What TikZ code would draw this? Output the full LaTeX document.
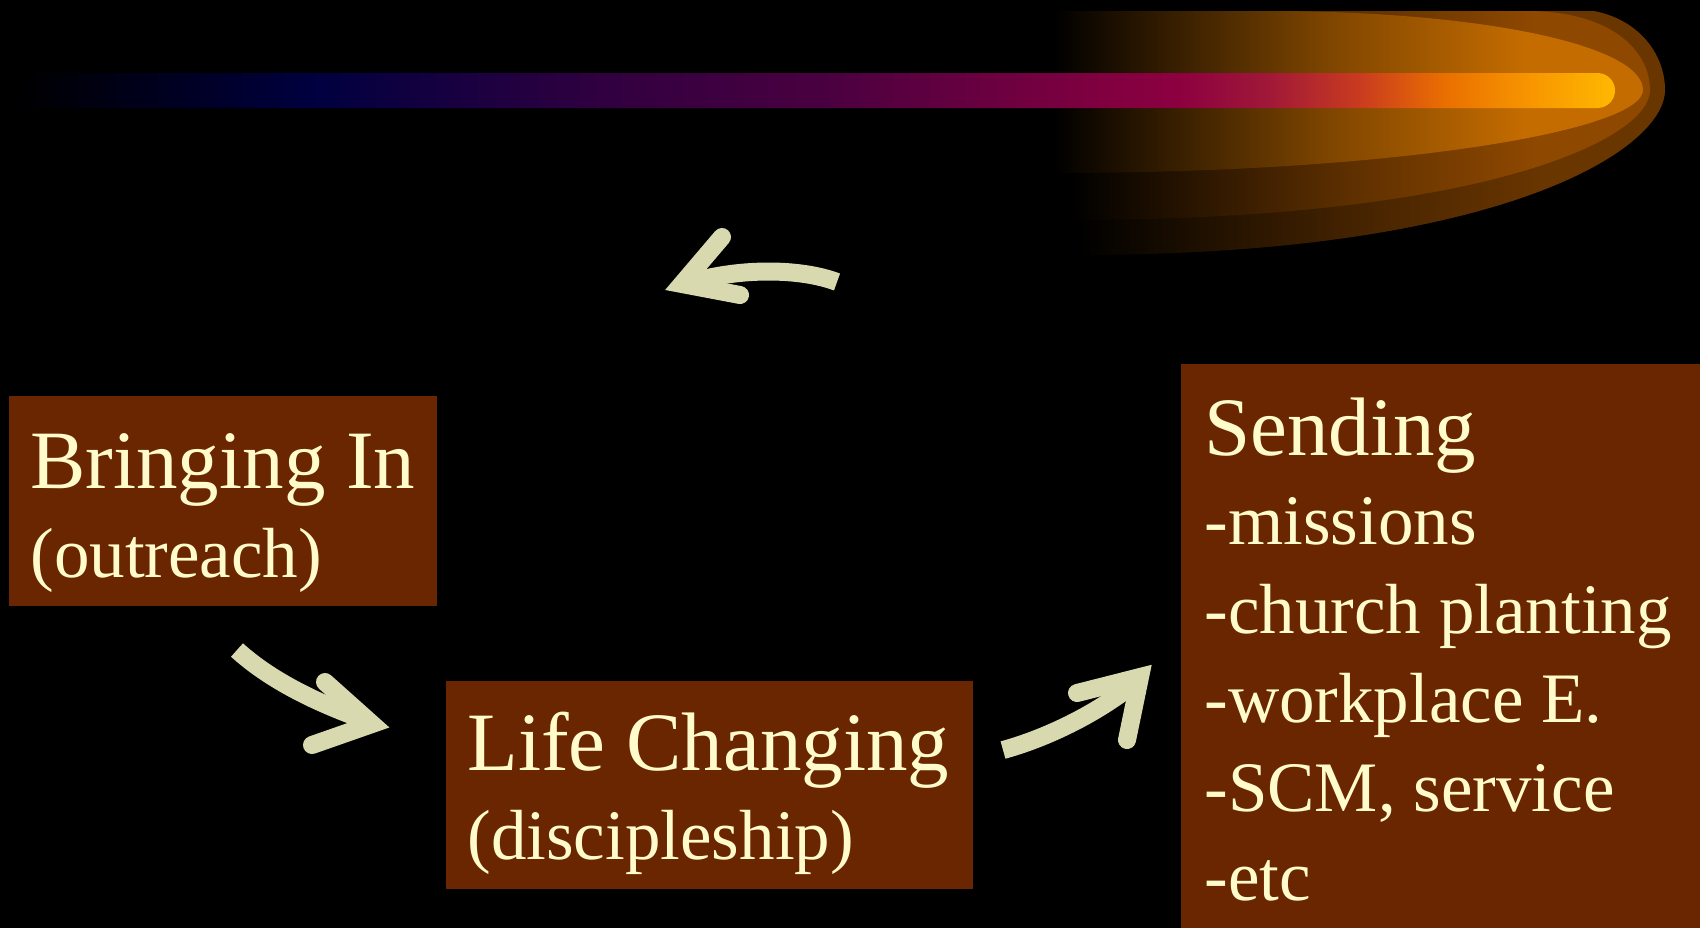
\documentclass[tikz,border=0pt]{standalone}
\usepackage{fontspec}
\setmainfont{Liberation Serif}
\definecolor{boxbrown}{HTML}{6A2600}
\definecolor{cream}{HTML}{FFFBCB}
\definecolor{arrowc}{HTML}{D9D9B0}
\definecolor{haloA}{HTML}{C46C00}
\definecolor{haloB}{HTML}{8E4800}
\definecolor{haloC}{HTML}{6A3600}
\colorlet{haloAa}{haloA!33!black}
\colorlet{haloAb}{haloA!66!black}
\colorlet{haloBa}{haloB!33!black}
\colorlet{haloBb}{haloB!66!black}
\colorlet{haloCa}{haloC!33!black}
\colorlet{haloCb}{haloC!66!black}
\definecolor{cbA}{HTML}{000040}
\definecolor{cbB}{HTML}{300040}
\definecolor{cbC}{HTML}{4A0040}
\definecolor{cbD}{HTML}{800040}
\definecolor{cbE}{HTML}{8C0040}
\definecolor{cbF}{HTML}{A01838}
\definecolor{cbG}{HTML}{C83A20}
\definecolor{cbH}{HTML}{EA7000}
\definecolor{cbI}{HTML}{F89800}
\definecolor{cbJ}{HTML}{FFB800}
\pgfdeclarehorizontalshading{cometbar}{100bp}{color(0bp)=(black); color(25bp)=(black); color(34.34bp)=(cbA); color(43.28bp)=(cbB); color(50.31bp)=(cbC); color(58.91bp)=(cbD); color(61.34bp)=(cbE); color(64.16bp)=(cbF); color(66.94bp)=(cbG); color(69.72bp)=(cbH); color(72.5bp)=(cbI); color(75bp)=(cbJ); color(100bp)=(cbJ)}
\pgfdeclarehorizontalshading{haloshA}{100bp}{color(0bp)=(black); color(25bp)=(black); color(37bp)=(haloAa); color(49bp)=(haloAb); color(65bp)=(haloA); color(100bp)=(haloA)}
\pgfdeclarehorizontalshading{haloshB}{100bp}{color(0bp)=(black); color(25bp)=(black); color(37bp)=(haloBa); color(49bp)=(haloBb); color(65bp)=(haloB); color(100bp)=(haloB)}
\pgfdeclarehorizontalshading{haloshC}{100bp}{color(0bp)=(black); color(25bp)=(black); color(37bp)=(haloCa); color(49bp)=(haloCb); color(65bp)=(haloC); color(100bp)=(haloC)}
\newcommand\bigtxt{\fontsize{41.5pt}{44.5pt}\selectfont}
\newcommand\smalltxt{\fontsize{35.5pt}{44.5pt}\selectfont}
\tikzset{
  box/.style={fill=boxbrown, draw=none, inner sep=0pt, anchor=north west},
  txt/.style={text=cream, inner sep=0pt, anchor=base west},
  shaft/.style={draw=arrowc, line width=9pt, line cap=butt},
  head/.style={draw=arrowc, line width=9pt, line cap=round, line join=miter}
}
\begin{document}
\begin{tikzpicture}[x=0.5pt,y=-0.5pt]
\fill[black] (0,0) rectangle (1700,928);
\useasboundingbox (0,0) rectangle (1700,928);
% comet halo
\shade[shading=haloshC] (1078,11) -- (1594,11) .. controls (1640,20) and (1665,55) .. (1665,90) .. controls (1665,150) and (1500,255) .. (1078,255) -- cycle;
\shade[shading=haloshB] (1071,11) -- (1527,11) .. controls (1610,11) and (1650,50) .. (1650,90) .. controls (1650,140) and (1480,220) .. (1071,220) -- cycle;
\shade[shading=haloshA] (1054,11) -- (1268,11) .. controls (1480,11) and (1643,45) .. (1643,90) .. controls (1643,130) and (1400,173) .. (1054,173) -- cycle;
% comet bar
\shade[shading=cometbar, rounded corners=8.75pt] (15,73) rectangle (1615,108);
% boxes
\node[box, minimum width=214pt, minimum height=105pt] (bring) at (9,396) {};
\node[box, minimum width=263.5pt, minimum height=104pt] (life) at (446,681) {};
\node[box, minimum width=259.5pt, minimum height=282pt] (send) at (1181,364) {};
% texts
\node[txt] (bringtxt) at (30,488) {\parbox[t]{220pt}{\bigtxt Bringing In\\\smalltxt (outreach)}};
\node[txt] (lifetxt) at (467,770) {\parbox[t]{260pt}{\bigtxt Life Changing\\\smalltxt (discipleship)}};
\node[txt] (sendtxt) at (1204,455) {\parbox[t]{250pt}{\bigtxt Sending\\\smalltxt -missions\\-church planting\\-workplace E.\\-SCM, service\\-etc}};
% arrows
\coordinate (a1tail) at (837,282);
\coordinate (a1end) at (692,282);
\coordinate (a1tip) at (682,284);
\coordinate (a1u) at (722,237);
\coordinate (a1l) at (740,295);
\draw[shaft] (a1tail) .. controls (800,268) and (740,268) .. (a1end);
\draw[head] (a1u) -- (a1tip) -- (a1l);
\coordinate (a2tail) at (237,650);
\coordinate (a2end) at (362,719);
\coordinate (a2tip) at (372,724);
\coordinate (a2u) at (325,682);
\coordinate (a2l) at (312,745);
\draw[shaft] (a2tail) .. controls (270,680) and (315,702) .. (a2end);
\draw[head] (a2u) -- (a2tip) -- (a2l);
\coordinate (a3tail) at (1003,750);
\coordinate (a3end) at (1131,686);
\coordinate (a3tip) at (1140,677);
\coordinate (a3u) at (1077,693);
\coordinate (a3l) at (1127,740);
\draw[shaft] (a3tail) .. controls (1040,740) and (1090,718) .. (a3end);
\draw[head] (a3u) -- (a3tip) -- (a3l);
\end{tikzpicture}
\end{document}
